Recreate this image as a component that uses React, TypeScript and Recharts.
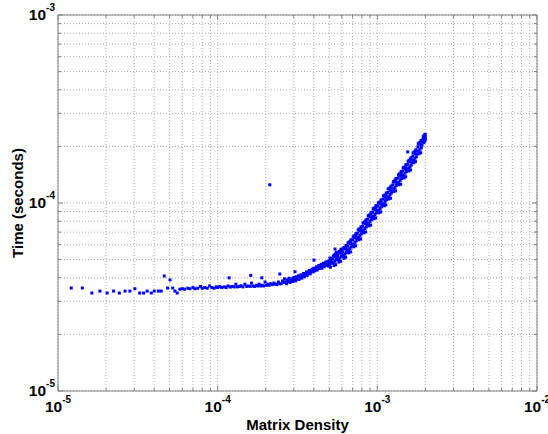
import React from 'react';
import { ScatterChart, Scatter, XAxis, YAxis, CartesianGrid, ReferenceLine } from 'recharts';

// [density, seconds] pairs
const lowDensity: [number, number][] = [
  [1.21e-5, 3.53e-5], [1.42e-5, 3.53e-5], [1.63e-5, 3.32e-5], [1.83e-5, 3.4e-5],
  [2.03e-5, 3.32e-5], [2.23e-5, 3.4e-5], [2.42e-5, 3.32e-5], [2.63e-5, 3.4e-5],
  [2.82e-5, 3.4e-5], [3.03e-5, 3.5e-5], [3.25e-5, 3.32e-5], [3.44e-5, 3.32e-5],
  [3.62e-5, 3.4e-5], [3.84e-5, 3.32e-5], [4.01e-5, 3.4e-5], [4.25e-5, 3.4e-5],
  [4.43e-5, 3.4e-5], [4.63e-5, 4.09e-5], [5.03e-5, 3.9e-5], [4.86e-5, 3.53e-5],
  [5.23e-5, 3.53e-5], [5.4e-5, 3.4e-5], [5.58e-5, 3.32e-5],
];

const plateau: [number, number][] = [
  [5.8e-5, 3.48e-5], [6.0e-5, 3.5e-5], [6.2e-5, 3.48e-5], [6.5e-5, 3.52e-5], [6.7e-5, 3.5e-5],
  [7.0e-5, 3.55e-5], [7.2e-5, 3.5e-5], [7.5e-5, 3.52e-5], [7.8e-5, 3.6e-5], [8.0e-5, 3.52e-5],
  [8.3e-5, 3.55e-5], [8.6e-5, 3.52e-5], [8.9e-5, 3.62e-5], [9.2e-5, 3.55e-5], [9.5e-5, 3.52e-5],
  [9.8e-5, 3.58e-5], [1.0e-4, 3.55e-5], [1.03e-4, 3.6e-5], [1.06e-4, 3.55e-5], [1.1e-4, 3.58e-5],
  [1.13e-4, 3.55e-5], [1.16e-4, 3.62e-5], [1.2e-4, 3.57e-5], [1.23e-4, 3.6e-5], [1.27e-4, 3.58e-5],
  [1.3e-4, 3.7e-5], [1.33e-4, 3.58e-5], [1.37e-4, 3.6e-5], [1.4e-4, 3.63e-5], [1.44e-4, 3.58e-5],
  [1.48e-4, 3.7e-5], [1.52e-4, 3.6e-5], [1.55e-4, 3.62e-5], [1.6e-4, 3.6e-5], [1.63e-4, 3.75e-5],
  [1.67e-4, 3.62e-5], [1.7e-4, 3.6e-5], [1.75e-4, 3.65e-5], [1.78e-4, 3.62e-5], [1.82e-4, 3.7e-5],
  [1.86e-4, 3.62e-5], [1.9e-4, 3.65e-5], [1.94e-4, 3.62e-5], [1.98e-4, 3.8e-5], [2.02e-4, 3.65e-5],
  [2.06e-4, 3.7e-5], [2.1e-4, 3.65e-5], [2.15e-4, 3.72e-5], [2.2e-4, 3.68e-5], [2.25e-4, 3.75e-5],
  [2.3e-4, 3.7e-5], [2.35e-4, 3.68e-5], [2.4e-4, 3.8e-5], [2.45e-4, 3.72e-5],
];

const knee: [number, number][] = [
  [2.5e-4, 3.72e-5], [2.55e-4, 3.85e-5], [2.6e-4, 3.78e-5], [2.62e-4, 3.95e-5], [2.66e-4, 3.8e-5],
  [2.7e-4, 3.72e-5], [2.73e-4, 3.9e-5], [2.77e-4, 3.82e-5], [2.8e-4, 3.98e-5], [2.84e-4, 3.78e-5],
  [2.88e-4, 3.88e-5], [2.92e-4, 3.95e-5], [2.95e-4, 3.82e-5], [3.0e-4, 4.02e-5], [3.03e-4, 3.9e-5],
  [3.08e-4, 3.85e-5], [3.1e-4, 4.05e-5], [3.15e-4, 3.95e-5], [3.2e-4, 4.1e-5], [3.23e-4, 3.92e-5],
  [3.28e-4, 4.02e-5], [3.32e-4, 4.15e-5], [3.36e-4, 3.98e-5], [3.4e-4, 4.1e-5], [3.45e-4, 4.22e-5],
  [3.5e-4, 4.05e-5], [3.55e-4, 4.18e-5], [3.6e-4, 4.3e-5], [3.64e-4, 4.12e-5], [3.7e-4, 4.25e-5],
  [3.75e-4, 4.38e-5], [3.8e-4, 4.2e-5], [3.85e-4, 4.32e-5], [3.9e-4, 4.45e-5], [3.95e-4, 4.3e-5],
  [4.0e-4, 4.5e-5], [4.05e-4, 4.35e-5], [4.1e-4, 4.42e-5], [4.15e-4, 4.58e-5], [4.2e-4, 4.4e-5],
  [4.25e-4, 4.55e-5], [4.3e-4, 4.65e-5], [4.35e-4, 4.48e-5], [4.4e-4, 4.6e-5], [4.45e-4, 4.72e-5],
  [4.5e-4, 4.5e-5], [4.55e-4, 4.65e-5], [4.6e-4, 4.78e-5], [4.65e-4, 4.58e-5], [4.7e-4, 4.72e-5],
  [4.75e-4, 4.85e-5], [4.8e-4, 4.65e-5], [4.85e-4, 4.75e-5], [4.9e-4, 4.9e-5],
  [4.95e-4, 4.62e-5], [5.0e-4, 4.9e-5], [5.03e-4, 4.7e-5], [5.08e-4, 4.55e-5], [5.1e-4, 4.95e-5],
  [5.12e-4, 4.78e-5], [5.15e-4, 5.05e-5], [4.98e-4, 4.75e-5], [5.2e-4, 4.85e-5], [5.05e-4, 5.1e-5],
];

const steep: [number, number][] = [
  [5.27e-4, 5.04e-5], [5.32e-4, 4.8e-5], [5.38e-4, 5.3e-5], [5.43e-4, 4.9e-5], [5.45e-4, 5.2e-5], [5.48e-4, 4.7e-5],
  [5.5e-4, 5.35e-5], [5.54e-4, 5.0e-5], [5.6e-4, 5.15e-5], [5.35e-4, 4.65e-5], [5.52e-4, 5.45e-5], [5.3e-4, 5.22e-5],
  [5.66e-4, 5.28e-5], [5.71e-4, 5.0e-5], [5.77e-4, 5.52e-5], [5.83e-4, 5.1e-5], [5.85e-4, 5.42e-5], [5.89e-4, 4.9e-5],
  [5.9e-4, 5.58e-5], [5.95e-4, 5.2e-5], [6.0e-4, 5.36e-5], [5.74e-4, 4.85e-5], [5.92e-4, 5.68e-5], [5.68e-4, 5.46e-5],
  [6.08e-4, 5.5e-5], [6.14e-4, 5.25e-5], [6.2e-4, 5.8e-5], [6.27e-4, 5.35e-5], [6.29e-4, 5.7e-5], [6.33e-4, 5.15e-5],
  [6.35e-4, 5.85e-5], [6.4e-4, 5.45e-5], [6.46e-4, 5.65e-5], [6.18e-4, 5.08e-5], [6.37e-4, 5.95e-5], [6.11e-4, 5.72e-5],
  [6.53e-4, 5.9e-5], [6.6e-4, 5.6e-5], [6.66e-4, 6.2e-5], [6.73e-4, 5.72e-5], [6.75e-4, 6.08e-5], [6.8e-4, 5.5e-5],
  [6.82e-4, 6.25e-5], [6.86e-4, 5.84e-5], [6.93e-4, 6.02e-5], [6.63e-4, 5.43e-5], [6.83e-4, 6.37e-5], [6.56e-4, 6.14e-5],
  [7.02e-4, 6.36e-5], [7.1e-4, 6.04e-5], [7.17e-4, 6.68e-5], [7.24e-4, 6.17e-5], [7.26e-4, 6.55e-5], [7.31e-4, 5.92e-5],
  [7.34e-4, 6.74e-5], [7.38e-4, 6.3e-5], [7.46e-4, 6.49e-5], [7.13e-4, 5.85e-5], [7.35e-4, 6.87e-5], [7.06e-4, 6.61e-5],
  [7.55e-4, 6.92e-5], [7.62e-4, 6.57e-5], [7.7e-4, 7.27e-5], [7.78e-4, 6.71e-5], [7.8e-4, 7.13e-5], [7.86e-4, 6.44e-5],
  [7.89e-4, 7.34e-5], [7.94e-4, 6.85e-5], [8.01e-4, 7.06e-5], [7.66e-4, 6.37e-5], [7.9e-4, 7.47e-5], [7.59e-4, 7.2e-5],
  [8.11e-4, 7.54e-5], [8.19e-4, 7.16e-5], [8.28e-4, 7.92e-5], [8.36e-4, 7.31e-5], [8.38e-4, 7.77e-5], [8.44e-4, 7.01e-5],
  [8.48e-4, 7.99e-5], [8.53e-4, 7.46e-5], [8.61e-4, 7.69e-5], [8.23e-4, 6.94e-5], [8.49e-4, 8.14e-5], [8.15e-4, 7.84e-5],
  [8.72e-4, 8.22e-5], [8.81e-4, 7.81e-5], [8.9e-4, 8.63e-5], [8.99e-4, 7.97e-5], [9.01e-4, 8.47e-5], [9.08e-4, 7.64e-5],
  [9.12e-4, 8.71e-5], [9.17e-4, 8.14e-5], [9.26e-4, 8.38e-5], [8.86e-4, 7.56e-5], [9.13e-4, 8.88e-5], [8.77e-4, 8.55e-5],
  [9.37e-4, 8.96e-5], [9.47e-4, 8.51e-5], [9.56e-4, 9.41e-5], [9.66e-4, 8.69e-5], [9.68e-4, 9.23e-5], [9.76e-4, 8.33e-5],
  [9.8e-4, 9.5e-5], [9.85e-4, 8.87e-5], [9.95e-4, 9.14e-5], [9.52e-4, 8.24e-5], [9.81e-4, 9.68e-5], [9.42e-4, 9.32e-5],
  [1.01e-3, 9.64e-5], [1.02e-3, 9.16e-5], [1.03e-3, 1.01e-4], [1.04e-3, 9.35e-5], [1.045e-3, 9.93e-5], [1.05e-3, 8.97e-5],
  [1.055e-3, 1.02e-4], [1.06e-3, 9.54e-5], [1.07e-3, 9.83e-5], [1.025e-3, 8.87e-5], [1.056e-3, 1.04e-4], [1.015e-3, 1.0e-4],
  [1.09e-3, 1.05e-4], [1.1e-3, 9.98e-5], [1.11e-3, 1.1e-4], [1.12e-3, 1.02e-4], [1.125e-3, 1.08e-4], [1.13e-3, 9.77e-5],
  [1.135e-3, 1.11e-4], [1.14e-3, 1.04e-4], [1.155e-3, 1.07e-4], [1.105e-3, 9.66e-5], [1.137e-3, 1.13e-4], [1.093e-3, 1.09e-4],
  [1.165e-3, 1.14e-4], [1.18e-3, 1.08e-4], [1.19e-3, 1.2e-4], [1.2e-3, 1.11e-4], [1.205e-3, 1.17e-4], [1.21e-3, 1.06e-4],
  [1.215e-3, 1.21e-4], [1.225e-3, 1.13e-4], [1.235e-3, 1.16e-4], [1.18e-3, 1.05e-4], [1.218e-3, 1.23e-4], [1.17e-3, 1.19e-4],
  [1.25e-3, 1.25e-4], [1.265e-3, 1.19e-4], [1.28e-3, 1.31e-4], [1.29e-3, 1.21e-4], [1.295e-3, 1.29e-4], [1.3e-3, 1.16e-4],
  [1.305e-3, 1.33e-4], [1.315e-3, 1.24e-4], [1.33e-3, 1.27e-4], [1.27e-3, 1.15e-4], [1.31e-3, 1.35e-4], [1.26e-3, 1.3e-4],
  [1.35e-3, 1.36e-4], [1.36e-3, 1.29e-4], [1.375e-3, 1.43e-4], [1.39e-3, 1.32e-4], [1.395e-3, 1.4e-4], [1.4e-3, 1.26e-4],
  [1.41e-3, 1.44e-4], [1.42e-3, 1.35e-4], [1.43e-3, 1.39e-4], [1.37e-3, 1.25e-4], [1.41e-3, 1.47e-4], [1.355e-3, 1.41e-4],
  [1.445e-3, 1.48e-4], [1.46e-3, 1.41e-4], [1.475e-3, 1.55e-4], [1.49e-3, 1.44e-4], [1.495e-3, 1.52e-4], [1.505e-3, 1.38e-4],
  [1.51e-3, 1.57e-4], [1.52e-3, 1.47e-4], [1.535e-3, 1.51e-4], [1.47e-3, 1.36e-4], [1.512e-3, 1.6e-4], [1.452e-3, 1.54e-4],
  [1.55e-3, 1.61e-4], [1.57e-3, 1.53e-4], [1.585e-3, 1.69e-4], [1.6e-3, 1.56e-4], [1.605e-3, 1.66e-4], [1.615e-3, 1.5e-4],
  [1.62e-3, 1.71e-4], [1.63e-3, 1.59e-4], [1.65e-3, 1.64e-4], [1.575e-3, 1.48e-4], [1.625e-3, 1.74e-4], [1.56e-3, 1.67e-4],
  [1.67e-3, 1.78e-4], [1.685e-3, 1.69e-4], [1.705e-3, 1.87e-4], [1.72e-3, 1.73e-4], [1.725e-3, 1.83e-4], [1.735e-3, 1.66e-4],
  [1.74e-3, 1.89e-4], [1.755e-3, 1.76e-4], [1.77e-3, 1.82e-4], [1.695e-3, 1.64e-4], [1.745e-3, 1.92e-4], [1.675e-3, 1.85e-4],
  [1.795e-3, 1.99e-4], [1.815e-3, 1.89e-4], [1.83e-3, 2.09e-4], [1.85e-3, 1.93e-4], [1.855e-3, 2.05e-4], [1.87e-3, 1.85e-4],
  [1.87e-3, 2.11e-4], [1.885e-3, 1.97e-4], [1.905e-3, 2.03e-4], [1.825e-3, 1.83e-4], [1.88e-3, 2.15e-4], [1.805e-3, 2.07e-4],
  [1.93e-3, 2.18e-4], [1.95e-3, 2.1e-4], [1.96e-3, 2.28e-4], [1.97e-3, 2.2e-4], [1.98e-3, 2.3e-4], [1.99e-3, 2.15e-4],
  [1.99e-3, 2.24e-4], [2.0e-3, 2.2e-4], [1.975e-3, 2.12e-4], [1.985e-3, 2.26e-4], [1.94e-3, 2.25e-4], [1.995e-3, 2.32e-4],
];

const outliers: [number, number][] = [
  [2.12e-4, 1.25e-4], [1.18e-4, 4.0e-5], [1.61e-4, 4.12e-5], [1.89e-4, 4.0e-5], [2.45e-4, 4.19e-5],
  [3.05e-4, 4.31e-5], [4.01e-4, 4.97e-5], [5.43e-4, 5.69e-5], [1.55e-3, 1.87e-4],
];

const xTicks = [
  1e-5, 2e-5, 3e-5, 4e-5, 5e-5, 6e-5, 7e-5, 8e-5, 9e-5,
  1e-4, 2e-4, 3e-4, 4e-4, 5e-4, 6e-4, 7e-4, 8e-4, 9e-4,
  1e-3, 2e-3, 3e-3, 4e-3, 5e-3, 6e-3, 7e-3, 8e-3, 9e-3, 1e-2,
];
const yTicks = [
  1e-5, 2e-5, 3e-5, 4e-5, 5e-5, 6e-5, 7e-5, 8e-5, 9e-5,
  1e-4, 2e-4, 3e-4, 4e-4, 5e-4, 6e-4, 7e-4, 8e-4, 9e-4, 1e-3,
];

const W = 548;
const H = 434;
const LEFT = 58;
const RIGHT = 537;
const TOP = 15;
const BOTTOM = 391;
const AXIS = '#808080';
const FONT = '"Liberation Sans", Arial, sans-serif';

const exponentOf = (v: number) => {
  const e = Math.round(Math.log10(v));
  return Math.abs(v / Math.pow(10, e) - 1) < 1e-6 ? e : null;
};

const XTick = (props: any) => {
  const { x, y, payload } = props;
  const e = exponentOf(payload.value);
  const len = e !== null ? 5 : 3;
  return (
    <g>
      <line x1={x} x2={x} y1={y} y2={y - len} stroke={AXIS} />
      <line x1={x} x2={x} y1={TOP} y2={TOP + len} stroke={AXIS} />
      {e !== null && (
        <text x={x} y={y + 21} textAnchor="middle" fontFamily={FONT} fontWeight="bold" fontSize={15.5} fill="#000">
          10<tspan dy={-9} fontSize={10}>{e}</tspan>
        </text>
      )}
    </g>
  );
};

const YTick = (props: any) => {
  const { x, y, payload } = props;
  const e = exponentOf(payload.value);
  const len = e !== null ? 5 : 3;
  return (
    <g>
      <line x1={x} x2={x + len} y1={y} y2={y} stroke={AXIS} />
      <line x1={RIGHT} x2={RIGHT - len} y1={y} y2={y} stroke={AXIS} />
      {e !== null && (
        <text x={x - 3} y={y + 5} textAnchor="end" fontFamily={FONT} fontWeight="bold" fontSize={15.5} fill="#000">
          10<tspan dy={-9} fontSize={10}>{e}</tspan>
        </text>
      )}
    </g>
  );
};

const Dot = (props: any) => {
  const { cx, cy } = props;
  if (cx == null || cy == null) return <g />;
  return <rect x={cx - 1.5} y={cy - 1.5} width={3} height={3} fill="#0000ff" />;
};

export default function App() {
  const points = [...lowDensity, ...plateau, ...knee, ...steep, ...outliers].map(([density, time]) => ({
    density,
    time,
  }));

  return (
    <div style={{ position: 'absolute', left: 0, top: 0, width: W, height: H, background: '#fff', overflow: 'hidden' }}>
      <ScatterChart width={W} height={H} margin={{ top: TOP, right: W - RIGHT, bottom: 0, left: 0 }}>
        <CartesianGrid stroke="#b0b0b0" strokeDasharray="1 2" />
        <XAxis
          dataKey="density"
          type="number"
          scale="log"
          domain={[1e-5, 1e-2]}
          ticks={xTicks}
          interval={0}
          allowDataOverflow
          height={H - BOTTOM}
          tickSize={0}
          tickMargin={0}
          tickLine={false}
          axisLine={{ stroke: AXIS }}
          tick={<XTick />}
        />
        <YAxis
          dataKey="time"
          type="number"
          scale="log"
          domain={[1e-5, 1e-3]}
          ticks={yTicks}
          interval={0}
          allowDataOverflow
          width={LEFT}
          tickSize={0}
          tickMargin={0}
          tickLine={false}
          axisLine={{ stroke: AXIS }}
          tick={<YTick />}
        />
        <ReferenceLine x={1e-2} stroke={AXIS} />
        <ReferenceLine y={1e-3} stroke={AXIS} />
        <Scatter data={points} shape={<Dot />} isAnimationActive={false} />
      </ScatterChart>
      <svg width={W} height={H} style={{ position: 'absolute', left: 0, top: 0, pointerEvents: 'none' }}>
        <text
          x={(LEFT + RIGHT) / 2}
          y={430}
          textAnchor="middle"
          fontFamily={FONT}
          fontWeight="bold"
          fontSize={15}
          fill="#000"
        >
          Matrix Density
        </text>
        <text
          transform={`translate(23, ${(TOP + BOTTOM) / 2}) rotate(-90)`}
          textAnchor="middle"
          fontFamily={FONT}
          fontWeight="bold"
          fontSize={15}
          fill="#000"
        >
          Time (seconds)
        </text>
      </svg>
    </div>
  );
}
